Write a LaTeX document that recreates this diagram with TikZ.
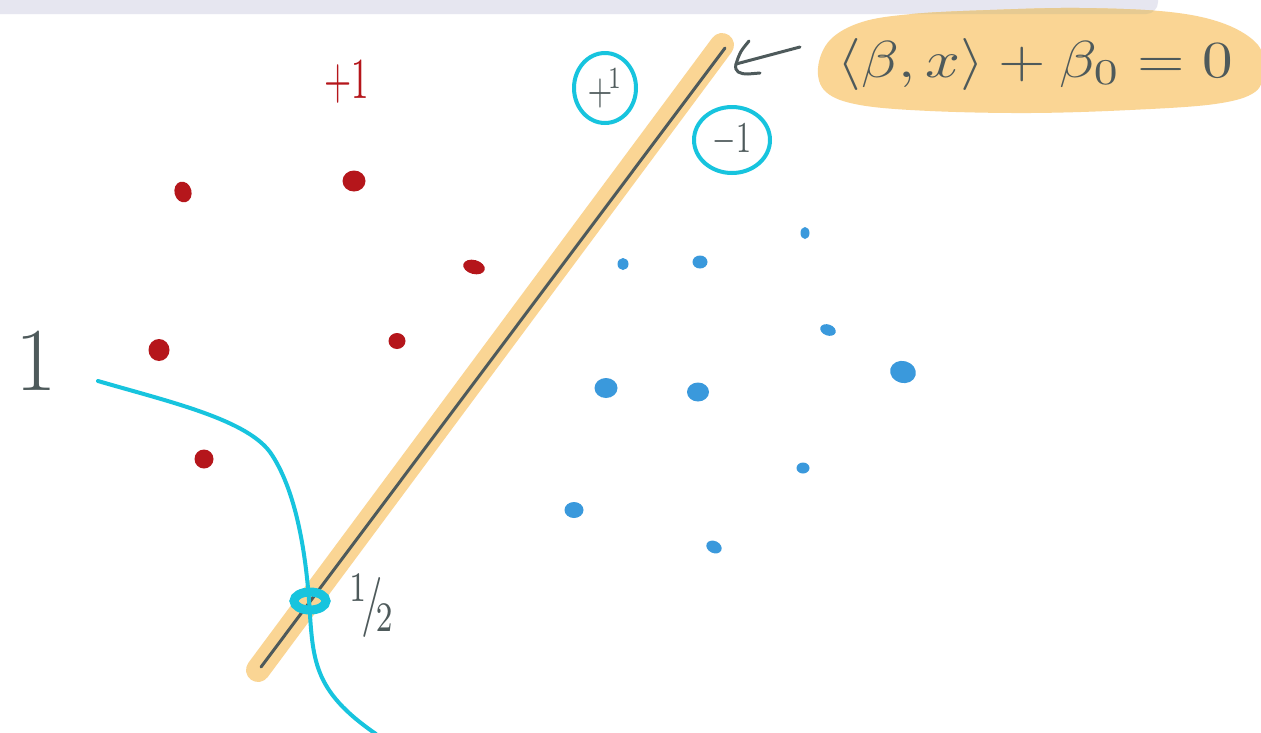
\documentclass[tikz,border=0pt]{standalone}
\usetikzlibrary{shapes.geometric}
\definecolor{hl}{HTML}{FAD594}
\definecolor{hldark}{HTML}{E6CA92}
\definecolor{barcol}{HTML}{E6E6F0}
\definecolor{ink}{HTML}{4E5A5B}
\definecolor{cy}{HTML}{17C4DE}
\definecolor{rd}{HTML}{B5161B}
\definecolor{bl}{HTML}{3A99DC}
\tikzset{
  rdot/.style={ellipse, fill=rd, inner sep=0pt},
  bdot/.style={ellipse, fill=bl, inner sep=0pt},
  cyring/.style={ellipse, draw=cy, line width=4pt, inner sep=0pt, text=ink},
  inkline/.style={ink, line width=3pt, line cap=round, line join=round},
}
\def\blobpath{plot[smooth cycle, tension=0.6] coordinates {(818,68) (830,40) (862,22) (912,14) (990,10) (1080,8) (1170,12) (1225,24) (1258,45) (1263,70) (1255,92) (1215,104) (1130,110) (1030,113) (930,111) (860,105) (826,92)}}
\begin{document}
\begin{tikzpicture}[x=1pt,y=-1pt]
\useasboundingbox (0,0) rectangle (1261,732);
\clip (0,0) rectangle (1261,732);
\fill[white] (0,0) rectangle (1261,732);
% top bar
\fill[barcol, rounded corners=12pt] (-30,-30) rectangle (1158,14);
% equation blob
\fill[hl] \blobpath;
\begin{scope}
  \clip[rounded corners=12pt] (-30,-30) rectangle (1158,14);
  \fill[hldark] \blobpath;
\end{scope}
\node[text=ink, inner sep=0pt] (eq) at (1035,64)
  {\scalebox{6.1}[5.2]{$\langle \beta, x \rangle + \beta_0 = 0$}};
% hyperplane
\coordinate (hA) at (258,670);
\coordinate (hB) at (722,45);
\draw[hl, line width=24pt, line cap=round] (hA) -- (hB);
\coordinate (lA) at (261,667);
\coordinate (lB) at (725,48);
\draw[inkline] (lA) -- (lB);
% arrow to the hyperplane
\coordinate (tail) at (800,47);
\coordinate (tip) at (736,64);
\draw[inkline] (tail) -- (tip);
\draw[inkline] ([shift={(13,-23)}]tip) .. controls ([shift={(4,-12)}]tip) .. (tip)
   .. controls ([shift={(-2,8)}]tip) and ([shift={(4,10)}]tip) .. ([shift={(12,10)}]tip) -- ([shift={(24,9)}]tip);
% class labels in rings
\node[cyring, minimum width=62pt, minimum height=70pt] (pc) at (605,88)
  {\scalebox{3.2}[4.4]{$+^{\!1}$}};
\node[cyring, minimum width=76pt, minimum height=66pt] (mc) at (732,140)
  {\scalebox{3}[4.4]{$-1$}};
% red +1
\node[text=rd, inner sep=0pt] (plab) at (347,82)
  {\scalebox{3.5}[5.8]{$+1$}};
% red points
\node[rdot, minimum width=17pt, minimum height=21pt, rotate=15] (r1) at (183,192) {};
\node[rdot, minimum width=23pt, minimum height=21pt] (r2) at (354,181) {};
\node[rdot, minimum width=22pt, minimum height=14pt, rotate=-15] (r3) at (474,267) {};
\node[rdot, minimum width=17pt, minimum height=16pt] (r4) at (397,341) {};
\node[rdot, minimum width=21pt, minimum height=22pt] (r5) at (159,350) {};
\node[rdot, minimum width=19pt, minimum height=19pt] (r6) at (204,459) {};
% blue points
\node[bdot, minimum width=11pt, minimum height=12pt] (b1) at (623,264) {};
\node[bdot, minimum width=15pt, minimum height=13pt] (b2) at (700,262) {};
\node[bdot, minimum width=9pt, minimum height=12pt] (b3) at (805,233) {};
\node[bdot, minimum width=16pt, minimum height=11pt, rotate=-20] (b4) at (828,330) {};
\node[bdot, minimum width=23pt, minimum height=20pt] (b5) at (606,388) {};
\node[bdot, minimum width=22pt, minimum height=19pt] (b6) at (698,392) {};
\node[bdot, minimum width=26pt, minimum height=22pt, rotate=-15] (b7) at (903,372) {};
\node[bdot, minimum width=13pt, minimum height=11pt] (b8) at (803,468) {};
\node[bdot, minimum width=19pt, minimum height=16pt] (b9) at (574,510) {};
\node[bdot, minimum width=16pt, minimum height=12pt, rotate=-25] (b10) at (714,547) {};
% sigmoid-like curve
\coordinate (cs) at (98,381);
\coordinate (ce) at (376,734);
\draw[cy, line width=4pt, line cap=round] (cs) .. controls (170,402) and (250,420) .. (272,455)
  .. controls (298,495) and (306,560) .. (309,600)
  .. controls (313,660) and (312,690) .. (ce);
\node[ellipse, draw=cy, line width=9pt, minimum width=32pt, minimum height=18pt, inner sep=0pt] (half) at (310,601) {};
% labels 1 and 1/2
\node[text=ink, inner sep=0pt] (one) at (36,361) {\fontsize{90}{100}\selectfont 1};
\node[text=ink, inner sep=0pt] (halflab) at (372,606)
  {\scalebox{4.3}[6]{${}^{1}\!/\!{}_{2}$}};
\end{tikzpicture}
\end{document}
